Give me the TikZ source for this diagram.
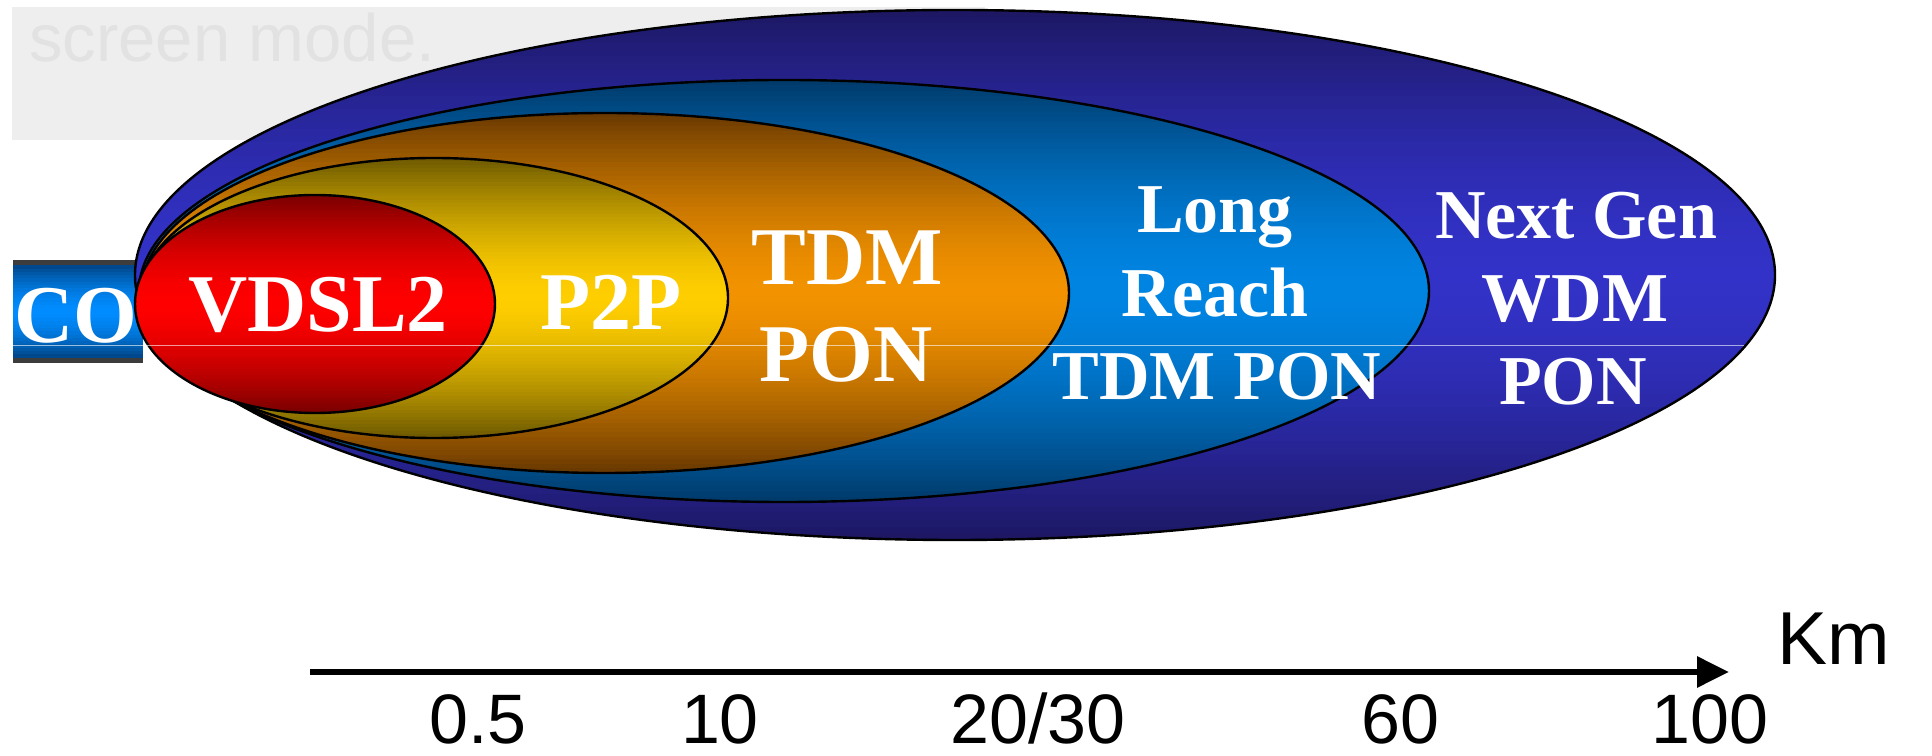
\documentclass[tikz,border=0pt]{standalone}
\usepackage{fontspec}
\setmainfont{Liberation Serif}
\newfontfamily\axisfont{Liberation Sans}
\usetikzlibrary{arrows.meta}

% palette
\definecolor{panelgrey}{HTML}{EEEEEE}
\definecolor{ghostgrey}{HTML}{E2E2E2}
\definecolor{coDark}{HTML}{003C78}
\definecolor{coLight}{HTML}{008CFF}
\definecolor{coFrame}{HTML}{3C3C3C}
\definecolor{ngDark}{HTML}{1C1762}
\definecolor{ngLight}{HTML}{3232C8}
\definecolor{lrDark}{HTML}{003A6A}
\definecolor{lrLight}{HTML}{0084E2}
\definecolor{tdDark}{HTML}{683800}
\definecolor{tdLight}{HTML}{F29200}
\definecolor{ppDark}{HTML}{6C5800}
\definecolor{ppLight}{HTML}{FFCE00}
\definecolor{vdDark}{HTML}{780000}
\definecolor{vdLight}{HTML}{FF0000}

\tikzset{
  ring/.style={draw=black, line width=2.4pt},
  bigtag/.style={text=white, inner sep=0pt, anchor=base,
    font=\bfseries\fontsize{82}{82}\selectfont},
  smalltag/.style={text=white, inner sep=0pt, anchor=base,
    font=\bfseries\fontsize{70}{70}\selectfont},
  kmtag/.style={text=black, inner sep=0pt, anchor=base,
    font=\axisfont\fontsize{70}{70}\selectfont},
  seam/.style={draw=white, draw opacity=0.6, line width=1pt},
}

% an elliptical zone: centre x, centre y, x radius, y radius, edge colour, core colour;
% filled with horizontal bands that brighten towards the middle, then outlined
\newcommand\zonefill[6]{%
  \begin{scope}
    \clip (#1,#2) ellipse (#3 and #4);
    \pgfmathsetmacro\zh{#4/40}%
    \foreach \k in {0,...,79}{%
      \pgfmathsetmacro\zt{100*pow(abs((\k+0.5)/40-1),1.6)}%
      \pgfmathsetmacro\zy{#2-#4+\k*\zh}%
      \colorlet{zoneband}{#5!\zt!#6}%
      \fill[zoneband] ({#1-#3},\zy) rectangle ({#1+#3},{\zy+\zh+0.6});
    }
  \end{scope}
  \draw[ring] (#1,#2) ellipse (#3 and #4);
}

\begin{document}
\begin{tikzpicture}[x=1pt,y=1pt]
\useasboundingbox[fill=white] (0,0) rectangle (1932,755);

% pale backdrop panel with its faded caption
\fill[panelgrey] (12,615) rectangle (985,748);
\node[anchor=base west, inner sep=0pt, text=ghostgrey,
      font=\axisfont\fontsize{67}{67}\selectfont] (ghost) at (29,693) {screen mode.};

% central office block, banded the same way
\foreach \k in {0,...,29}{%
  \pgfmathsetmacro\zt{100*pow(abs((\k+0.5)/15-1),1.6)}%
  \colorlet{coband}{coDark!\zt!coLight}%
  \fill[coband] (13,{394+\k*3.3}) rectangle (143,{394+(\k+1)*3.3+0.5});
}
\draw[coFrame, line width=5pt] (13,492.5) -- (143,492.5);
\draw[coFrame, line width=5pt] (13,394.5) -- (143,394.5);
\node[bigtag] (co) at (76,412) {CO};

% nested reach zones, outermost first
\zonefill{955}{480}{820}{265}{ngDark}{ngLight}
\zonefill{784}{464}{645}{211}{lrDark}{lrLight}
\zonefill{605}{462}{464}{180}{tdDark}{tdLight}
\zonefill{434}{457}{294}{140}{ppDark}{ppLight}
\zonefill{315}{451}{180}{109}{vdDark}{vdLight}

% zone labels
\node[bigtag] (vdsl) at (318,423) {VDSL2};
\node[bigtag] (p2p) at (611,425) {P2P};
\node[bigtag] (tdm1) at (847,470) {TDM};
\node[bigtag] (tdm2) at (846,373) {PON};
\node[smalltag] (lr1) at (1215,522) {Long};
\node[smalltag] (lr2) at (1215,438) {Reach};
\node[smalltag] (lr3) at (1217,355) {TDM PON};
\node[smalltag] (ng1) at (1576,516) {Next Gen};
\node[smalltag] (ng2) at (1575,433) {WDM};
\node[smalltag] (ng3) at (1573,350) {PON};

% faint seam across the zones
\coordinate (seamL) at (13,409);
\coordinate (seamR) at (1744,409);
\draw[seam] (seamL) -- (seamR);

% distance axis
\coordinate (axL) at (310,83);
\coordinate (axR) at (1729,83);
\draw[line width=6pt, -{Triangle[length=32pt,width=30pt]}] (axL) -- (axR);
\node[kmtag, font=\axisfont\fontsize{75}{75}\selectfont] (km) at (1834,91) {Km};
\node[kmtag] (d1) at (478,12) {0.5};
\node[kmtag] (d2) at (720,12) {10};
\node[kmtag] (d3) at (1038,12) {20/30};
\node[kmtag] (d4) at (1400,12) {60};
\node[kmtag] (d5) at (1710,12) {100};
\end{tikzpicture}
\end{document}
